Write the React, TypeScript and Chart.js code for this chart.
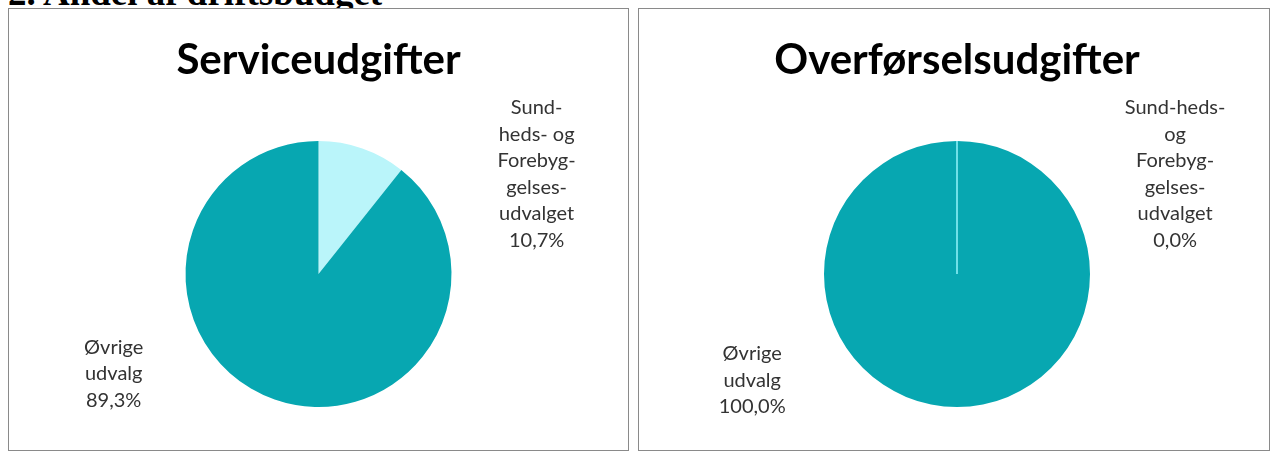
import React, { useEffect, useRef } from "react";
import { Chart, registerables } from "chart.js";
Chart.register(...registerables);

const pageHeading = "2. Andel af driftsbudget";
const chartTitles = ["Serviceudgifter", "Overførselsudgifter"];
const categories = ["Sundheds- og Forebyggelsesudvalget", "Øvrige udvalg"];
const serviceValues = [10.7, 89.3];
const transferValues = [0.0, 100.0];
const serviceLabelLines = [["Sund-", "heds- og", "Forebyg-", "gelses-", "udvalget"], ["Øvrige", "udvalg"]];
const transferLabelLines = [["Sund-heds-", "og", "Forebyg-", "gelses-", "udvalget"], ["Øvrige", "udvalg"]];

const TEAL = "#07A7B1";
const LIGHT = "#BAF5FA";

const fmtPct = (v: number) => v.toFixed(1).replace(".", ",") + "%";

const sliceLabelPlugin = {
  id: "sliceLabels",
  afterDatasetsDraw(chart: any, _args: any, opts: any) {
    const meta = chart.getDatasetMeta(0);
    const ctx = chart.ctx;
    const ds = chart.data.datasets[0];
    // zero slices: draw a thin radial line
    meta.data.forEach((arc: any) => {
      const p = arc.getProps(["x", "y", "startAngle", "endAngle", "outerRadius"], true);
      if (Math.abs(p.endAngle - p.startAngle) < 1e-9) {
        ctx.save();
        ctx.strokeStyle = opts.zeroLineColor;
        ctx.lineWidth = 2;
        ctx.beginPath();
        ctx.moveTo(p.x, p.y);
        ctx.lineTo(p.x + Math.cos(p.startAngle) * p.outerRadius, p.y + Math.sin(p.startAngle) * p.outerRadius);
        ctx.stroke();
        ctx.restore();
      }
    });
    const arc0 = meta.data[0];
    const cx = arc0.x, cy = arc0.y, r = arc0.outerRadius;
    ctx.save();
    ctx.font = opts.font;
    ctx.fillStyle = opts.color;
    ctx.textAlign = "center";
    ctx.textBaseline = "middle";
    opts.lines.forEach((lines: string[], i: number) => {
      const all = [...lines, fmtPct(ds.data[i])];
      const [dx, dy] = opts.offsets[i];
      const n = all.length;
      all.forEach((t, j) => {
        ctx.fillText(t, cx + dx * r, cy + dy * r + (j - (n - 1) / 2) * opts.lineHeight);
      });
    });
    ctx.restore();
  },
};

function PieBox(props: { left: number; width: number; title: string; values: number[]; lines: string[][]; offsets: number[][]; padLeft: number }) {
  const ref = useRef<HTMLCanvasElement>(null);
  useEffect(() => {
    const chart = new Chart(ref.current!, {
      type: "pie",
      data: {
        labels: categories,
        datasets: [{ data: props.values, backgroundColor: [LIGHT, TEAL], borderWidth: 0 }],
      },
      options: {
        animation: false,
        responsive: false,
        events: [],
        layout: { padding: { left: props.padLeft, bottom: 43 } },
        plugins: {
          legend: { display: false },
          tooltip: { enabled: false },
          title: {
            display: true,
            text: props.title,
            color: "#000",
            font: { family: "Lato", size: 42, weight: "bold" },
            padding: { top: 26, bottom: 55.6 },
          },
          sliceLabels: {
            lines: props.lines,
            offsets: props.offsets,
            font: "20px Lato",
            color: "#333333",
            lineHeight: 26.5,
            zeroLineColor: "#6FE0E8",
          },
        } as any,
      },
      plugins: [sliceLabelPlugin],
    });
    return () => chart.destroy();
  }, []);
  return (
    <div
      style={{
        position: "absolute",
        left: props.left,
        top: 8,
        width: props.width,
        height: 443,
        boxSizing: "border-box",
        border: "1px solid #8a8a8a",
        background: "#fff",
      }}
    >
      <canvas ref={ref} width={props.width - 2} height={441} style={{ display: "block" }} />
    </div>
  );
}

export default function App() {
  return (
    <div>
      <div
        style={{
          position: "absolute",
          left: 8,
          top: -26,
          font: 'bold 37px "Liberation Serif"',
          lineHeight: "37px",
          whiteSpace: "nowrap",
          color: "#000",
        }}
      >
        {pageHeading}
      </div>
      <PieBox left={8} width={621} title={chartTitles[0]} values={serviceValues} lines={serviceLabelLines} offsets={[[1.64, -0.75], [-1.54, 0.75]]} padLeft={0} />
      <PieBox left={638} width={632} title={chartTitles[1]} values={transferValues} lines={transferLabelLines} offsets={[[1.64, -0.75], [-1.54, 0.8]]} padLeft={6} />
    </div>
  );
}
